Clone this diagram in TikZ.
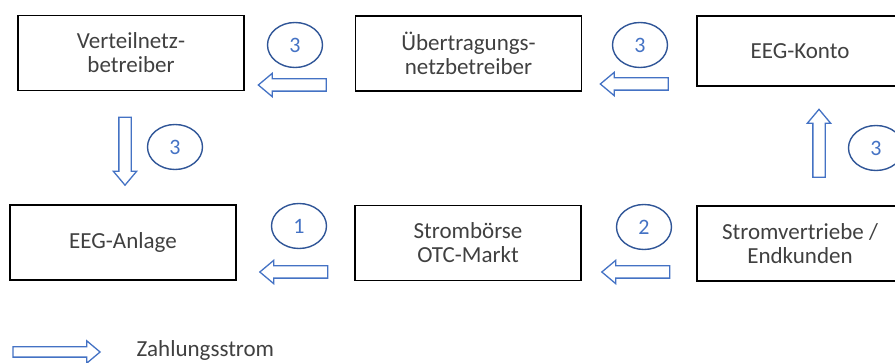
\documentclass[tikz,border=0pt]{standalone}
\usepackage{fontspec}
\setmainfont{Carlito}
\usetikzlibrary{shapes.geometric,shapes.arrows}
\definecolor{txtgray}{HTML}{404040}
\definecolor{flowblue}{HTML}{4472C4}
\definecolor{ringblue}{HTML}{2F5597}
\begin{document}
\begin{tikzpicture}[x=1pt,y=-1pt,
    box/.style={draw=black,line width=1.4pt,minimum width=226pt,minimum height=75pt,
      inner sep=0pt,align=center,text=txtgray,font=\fontsize{23}{24}\selectfont},
    num/.style={ellipse,draw=ringblue,line width=1.4pt,minimum width=55pt,minimum height=45pt,
      inner sep=0pt,text=flowblue,font=\fontsize{22}{24}\selectfont},
    flow/.style={single arrow,draw=flowblue,fill=white,line width=1.3pt,inner sep=5.5pt,
      minimum width=0pt,minimum height=68pt,single arrow head extend=5.5pt,
      single arrow tip angle=80}]
  \useasboundingbox (0,0) rectangle (895,363);
  \clip (0,0) rectangle (895,363);
  \draw
    (131,53) node[box] (vnb){Verteilnetz-\\betreiber}
    (468.5,53.5) node[box] (uenb){Übertragungs-\\netzbetreiber}
    (800,51) node[box,minimum width=206pt,minimum height=70pt] (konto){EEG-Konto}
    (123,242.5) node[box] (anlage){EEG-Anlage}
    (468,243) node[box] (boerse){Strombörse\\OTC-Markt}
    (800,243.5) node[box,minimum width=206pt] (vertrieb){Stromvertriebe /\\Endkunden};
  \begin{scope}[every node/.style={num}]
    \draw
      (295,45) node (n1){3}
      (640,45) node (n2){3}
      (175,147) node (n3){3}
      (876,148) node (n4){3}
      (299,226) node (n5){1}
      (644,227) node (n6){2};
  \end{scope}
  \begin{scope}[every node/.style={flow}]
    \draw
      (296,85) node[shape border rotate=180] (f1){}
      (638,84) node[shape border rotate=180] (f2){}
      (125,147.5) node[shape border rotate=270] (f3){}
      (819,147) node[shape border rotate=90] (f4){}
      (297.5,272) node[shape border rotate=180] (f5){}
      (639.5,272) node[shape border rotate=180] (f6){}
      (53.5,352) node[minimum height=87pt,inner sep=4.5pt,single arrow head extend=6pt] (legend){};
  \end{scope}
  \node[anchor=base west,text=txtgray,font=\fontsize{23}{24}\selectfont] (lbl) at (133,357) {Zahlungsstrom};
\end{tikzpicture}
\end{document}
